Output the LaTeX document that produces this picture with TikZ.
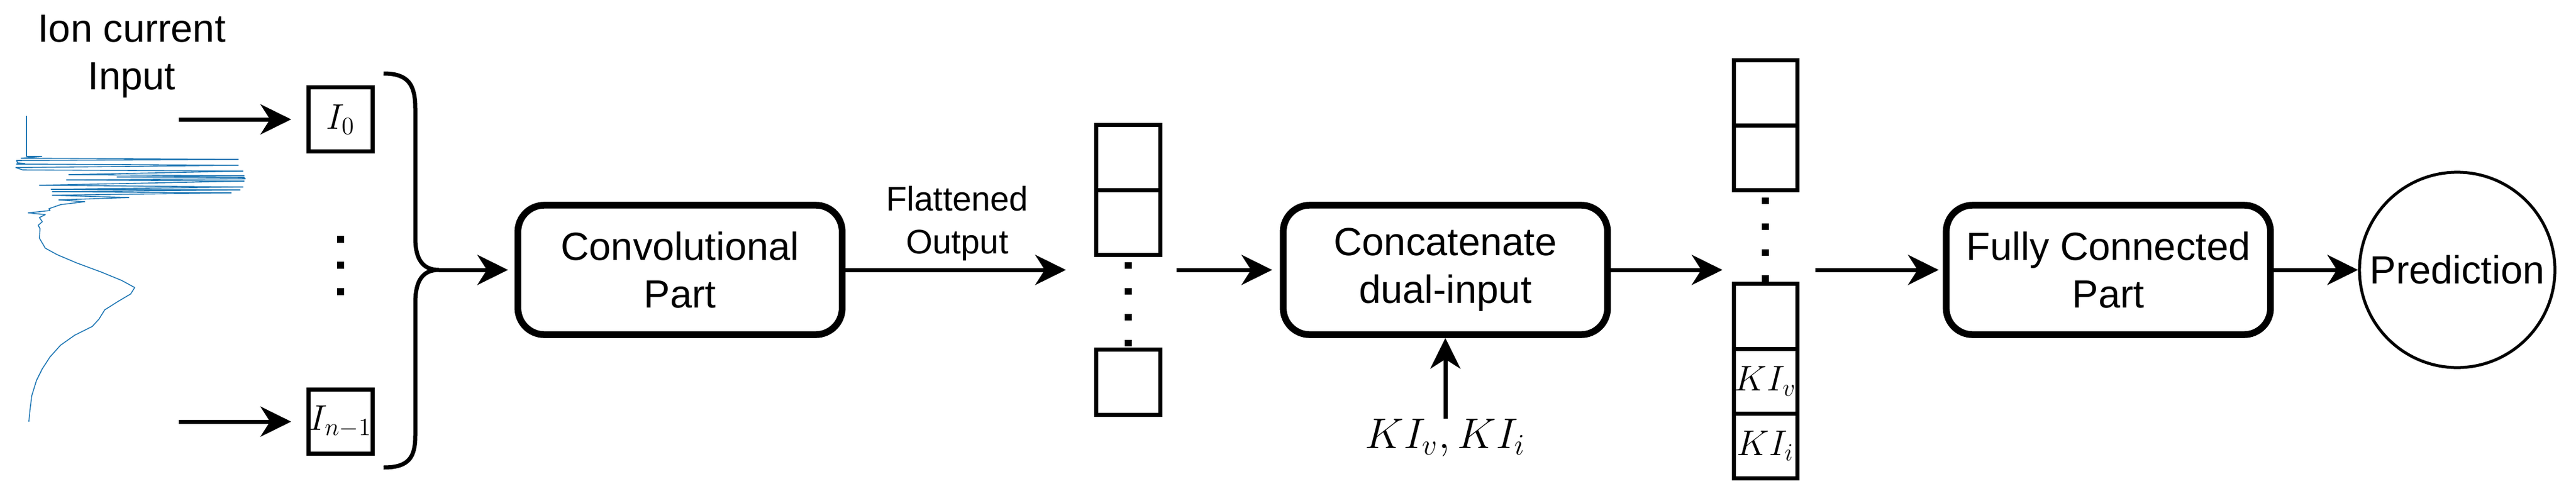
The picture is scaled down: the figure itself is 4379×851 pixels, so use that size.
\documentclass[tikz,border=0pt]{standalone}
\usepackage[no-math]{fontspec}
\setmainfont{Liberation Sans}
\usepackage{amsmath}
\usetikzlibrary{arrows.meta,positioning}
\definecolor{wavecol}{HTML}{1F77B4}
\tikzset{
  arr/.style={-{Stealth[length=0.52cm,width=0.51cm,inset=0.16cm]},line width=0.07cm},
  block/.style={draw,line width=0.115cm,rounded corners=0.45cm,minimum width=5.51cm,minimum height=2.2cm,align=center,font=\fontsize{19}{23}\selectfont},
  inbox/.style={draw,line width=0.075cm,minimum size=1.085cm,inner sep=0pt,font=\fontsize{17}{20}\selectfont},
  cell/.style={draw,line width=0.07cm,minimum width=1.08cm,minimum height=1.1cm,inner sep=0pt,outer sep=0pt,font=\fontsize{17}{20}\selectfont},
  vdots/.style={line width=0.12cm,dash pattern=on 0.11cm off 0.33cm,dash phase=0.31cm},
}

\begin{document}
\begin{tikzpicture}[x=0.01cm,y=-0.01cm]
      \useasboundingbox (0,0) rectangle (4379,851);

      % Ion current trace
      \draw[wavecol,line width=0.45pt,line join=round]
        (45,197) -- (45,266) -- (71,266) -- (36,269) -- (405,271) -- (28,273) -- (30,277) -- (42,278)
        -- (28,279) -- (405,281) -- (27,285) -- (39,289) -- (413,291) -- (117,297) -- (415,299)
        -- (199,301) -- (415,302) -- (417,304) -- (113,306) -- (415,308) -- (67,315) -- (413,318)
        -- (87,322) -- (408,323) -- (89,326) -- (393,328) -- (89,332) -- (219,336) -- (100,340)
        -- (144,343) -- (103,348) -- (83,355) -- (85,358) -- (48,362) -- (77,365) -- (67,370)
        -- (72,377) -- (65,383) -- (68,389) -- (67,405) -- (77,422) -- (97,433) -- (130,447)
        -- (173,463) -- (207,477) -- (229,489) -- (222,500) -- (200,513) -- (178,527) -- (168,543)
        -- (157,555) -- (127,570) -- (103,587) -- (85,607) -- (72,627) -- (62,647) -- (54,673)
        -- (51,697) -- (49,717);
      \node[align=center,font=\fontsize{19}{23}\selectfont] (ionlbl) at (224,96) {Ion current\\Input};

      % Input slices
      \node[inbox] (I0) at (579,203) {$I_0$};
      \node[inbox] (In1) at (579,717) {$I_{n-1}$};
      \foreach \y in {407,451,496} \fill (573,\y-6) rectangle (585,\y+6);
      \coordinate (in0) at (304,203);
      \coordinate (in1) at (304,717);
      \draw[arr,shorten >=0.26cm] (in0) -- (I0.west);
      \draw[arr,shorten >=0.26cm] (in1) -- (In1.west);

      % Brace
      \coordinate (tip) at (746,459);
      \draw[line width=0.07cm] (652,125) .. controls (695,125) and (706,145) .. (706,185) -- (706,405)
        .. controls (706,440) and (718,459) .. (tip) .. controls (718,459) and (706,478) .. (706,515)
        -- (706,740) .. controls (706,778) and (695,795) .. (652,795);

      % Main blocks
      \node[block] (conv) at (1156,459) {Convolutional\\Part};
      \node[block] (concat) at (2457,459) {Concatenate\\dual-input};
      \node[block] (fc) at (3584,459) {Fully Connected\\Part};
      \node[draw,circle,line width=0.05cm,minimum size=3.32cm,inner sep=0pt,font=\fontsize{19}{23}\selectfont] (pred) at (4177,459) {Prediction};
      \node[anchor=north,inner sep=0pt,font=\fontsize{22}{26}\selectfont] (kin) at (2457,712) {$KI_v,KI_i$};

      % Flattened vector
      \node[cell] (c11) at (1918,268) {};
      \node[cell,below=0pt of c11] (c12) {};
      \node[cell] (c13) at (1918,650) {};
      \draw[vdots] (c12.south) -- (c13.north);

      % Concatenated vector
      \node[cell] (c21) at (3001,158) {};
      \node[cell,below=0pt of c21] (c22) {};
      \node[cell] (c23) at (3001,538) {};
      \node[cell,below=0pt of c23] (c24) {$KI_v$};
      \node[cell,below=0pt of c24] (c25) {$KI_i$};
      \draw[vdots] (c22.south) -- (c23.north);

      % Connections
      \draw[arr,shorten >=0.11cm] (tip) -- (conv.west);
      \draw[arr,shorten >=0.52cm] (conv.east) -- node[pos=0.445,above,inner sep=0.12cm,align=center,font=\fontsize{16.5}{20.8}\selectfont] (flatlbl) {Flattened\\Output} (conv.east -| c12.west);
      \draw[arr,shorten <=0.28cm,shorten >=0.13cm] (concat.west -| c12.east) -- (concat.west);
      \draw[arr,shorten >=0.19cm] (concat.east) -- (concat.east -| c21.west);
      \draw[arr,shorten <=0.31cm,shorten >=0.07cm] (fc.west -| c21.east) -- (fc.west);
      \draw[arr] (fc.east) -- (pred.west);
      \draw[arr] (kin.north) -- (concat.south);
  \end{tikzpicture}
\end{document}
